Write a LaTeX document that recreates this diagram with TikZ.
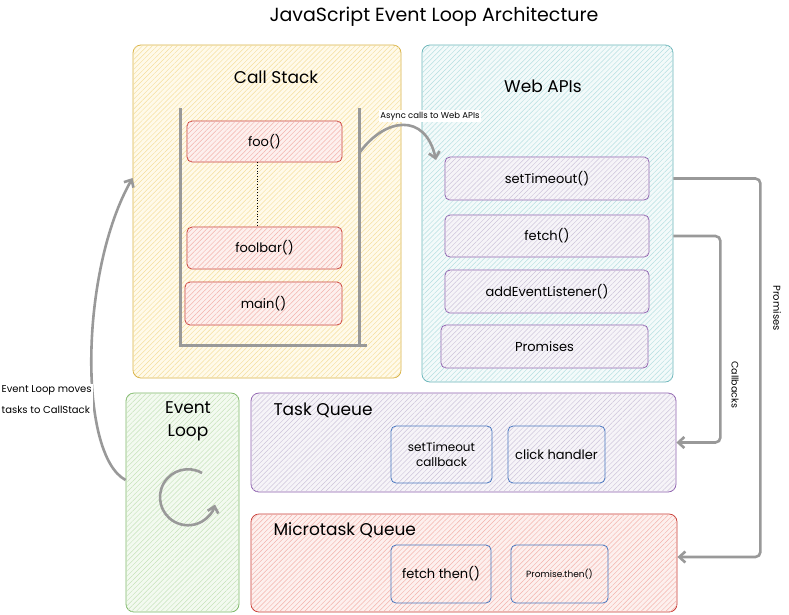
\documentclass[tikz,border=0pt]{standalone}
\usepackage{fontspec}
\setmainfont{Poppins}
\usetikzlibrary{patterns.meta,arrows.meta,calc}
\definecolor{ysB}{HTML}{D9B44A}\definecolor{ysF}{HTML}{FFFAEA}\definecolor{ysH}{HTML}{F5DE9C}
\definecolor{tlB}{HTML}{6DB6BA}\definecolor{tlF}{HTML}{F3FAFA}\definecolor{tlH}{HTML}{B5DFE1}
\definecolor{rdB}{HTML}{C9403A}\definecolor{rdF}{HTML}{FDF0EE}\definecolor{rdH}{HTML}{F3B2AB}
\definecolor{ppB}{HTML}{9063B0}\definecolor{ppF}{HTML}{F6F4F8}\definecolor{ppH}{HTML}{CDC4DA}
\definecolor{gnB}{HTML}{7FB86A}\definecolor{gnF}{HTML}{F3FAF0}\definecolor{gnH}{HTML}{C6E2BA}
\definecolor{blB}{HTML}{4A78C0}
\definecolor{arrgray}{HTML}{999999}
\tikzset{
  panel/.style n args={3}{draw=#1, fill=#2, rounded corners=8pt, line width=0.8pt,
    postaction={pattern={Lines[angle=45,distance=3.5pt,line width=0.45pt]}, pattern color=#3}},
  ibox/.style n args={3}{draw=#1, fill=#2, rounded corners=5pt, line width=0.8pt,
    postaction={pattern={Lines[angle=45,distance=3.5pt,line width=0.45pt]}, pattern color=#3},
    font=\fontsize{13}{15}\selectfont, text=black, align=center},
  qbox/.style={draw=blB, rounded corners=5pt, line width=0.8pt, font=\fontsize{13}{15}\selectfont, align=center},
  ptitle/.style={font=\fontsize{17}{20}\selectfont},
  arr/.style={draw=arrgray, line width=2.6pt, -{Straight Barb[length=6pt,width=11pt]}},
  smalllbl/.style={fill=white, inner sep=1.5pt, font=\fontsize{9.5}{12}\selectfont},
}
\begin{document}
\begin{tikzpicture}[x=1pt,y=1pt]
\useasboundingbox (0,0) rectangle (789,-614);
\fill[white] (0,0) rectangle (789,-614);

\node[font=\fontsize{19}{22}\selectfont] (title) at (434,-17) {JavaScript Event Loop Architecture};

% panels
\node[panel={ysB}{ysF}{ysH}, minimum width=268, minimum height=333] (cs) at (267,-211.5) {};
\node[panel={tlB}{tlF}{tlH}, minimum width=251, minimum height=337] (web) at (547.5,-213.5) {};
\node[panel={gnB}{gnF}{gnH}, minimum width=113, minimum height=219] (el) at (182.5,-502.5) {};
\node[panel={ppB}{ppF}{ppH}, minimum width=425, minimum height=99] (tq) at (463.5,-442.5) {};
\node[panel={rdB}{rdF}{rdH}, minimum width=426, minimum height=98] (mq) at (464,-563) {};

% titles
\node[ptitle] (cst) at (276,-77) {Call Stack};
\node[ptitle] (wt) at (543,-86) {Web APIs};
\node[ptitle, align=center, font=\fontsize{17}{23}\selectfont] (elt) at (188,-421) {Event\\Loop};
\node[ptitle, anchor=west] (tqt) at (270,-410) {Task Queue};
\node[ptitle, anchor=west] (mqt) at (270,-530) {Microtask Queue};

% stack container
\draw[arrgray, line width=3pt] (180,-108) -- (180,-345) -- (367,-345);
\draw[arrgray, line width=3pt] (359,-108) -- (359,-345);

% call stack frames
\node[ibox={rdB}{rdF}{rdH}, minimum width=155, minimum height=41] (foo) at (264.5,-141.5) {foo()};
\node[ibox={rdB}{rdF}{rdH}, minimum width=155, minimum height=42] (foolbar) at (264.5,-248) {foolbar()};
\node[ibox={rdB}{rdF}{rdH}, minimum width=157, minimum height=43] (main) at (263.5,-303.5) {main()};
\draw[dotted, line width=0.7pt] ([xshift=-7]foo.south) -- ([xshift=-7]foolbar.north);

% web apis
\node[ibox={ppB}{ppF}{ppH}, minimum width=204, minimum height=43] (setT) at (547,-178.5) {setTimeout()};
\node[ibox={ppB}{ppF}{ppH}, minimum width=204, minimum height=42] (fetch) at (547,-236) {fetch()};
\node[ibox={ppB}{ppF}{ppH}, minimum width=204, minimum height=43] (addEL) at (547,-291.5) {addEventListener()};
\node[ibox={ppB}{ppF}{ppH}, minimum width=207, minimum height=43] (prom) at (544.5,-346.5) {Promises};

% queues
\node[qbox, minimum width=101, minimum height=57, font=\fontsize{12}{15}\selectfont] (stcb) at (441.5,-454.5) {setTimeout\\callback};
\node[qbox, minimum width=97, minimum height=57, inner xsep=1pt] (click) at (556.5,-454.5) {click handler};
\node[qbox, minimum width=100, minimum height=58, inner xsep=1pt] (fthen) at (441,-574) {fetch then()};
\node[qbox, minimum width=97, minimum height=58, font=\fontsize{9}{10}\selectfont] (pthen) at (559.5,-574) {Promise.then()};

% async arrow
\coordinate (ast) at (360,-152);
\coordinate (aend) at (436,-160);
\draw[arr] (ast) .. controls (385,-118) and (425,-112) .. (aend);
\node[smalllbl, font=\fontsize{8.5}{10}\selectfont] (albl) at (430,-116) {Async calls to Web APIs};

% event loop arrow
\draw[arr] ([yshift=22.5]el.west) .. controls (78,-455) and (80,-270) .. ([yshift=33.5]cs.west);
\node[smalllbl, anchor=west, align=left, font=\fontsize{10}{21}\selectfont] (ellbl) at (0,-400) {Event Loop moves\\tasks to CallStack};

% circular arrow
\draw[arr] (202,-473) arc[start angle=60, end angle=345, radius=28];

% callbacks / promises
\draw[arr, rounded corners=5pt] (web.east |- fetch.center) -- ++(47,0) |- (tq.east);
\draw[arr, rounded corners=5pt] (web.east |- setT.center) -- ++(87,0) |- ([yshift=6]mq.east);
\node[rotate=-90, font=\fontsize{9.5}{11}\selectfont] (cblbl) at (735,-385) {Callbacks};
\node[rotate=-90, font=\fontsize{10}{11}\selectfont] (prlbl) at (777,-308) {Promises};
\end{tikzpicture}
\end{document}
